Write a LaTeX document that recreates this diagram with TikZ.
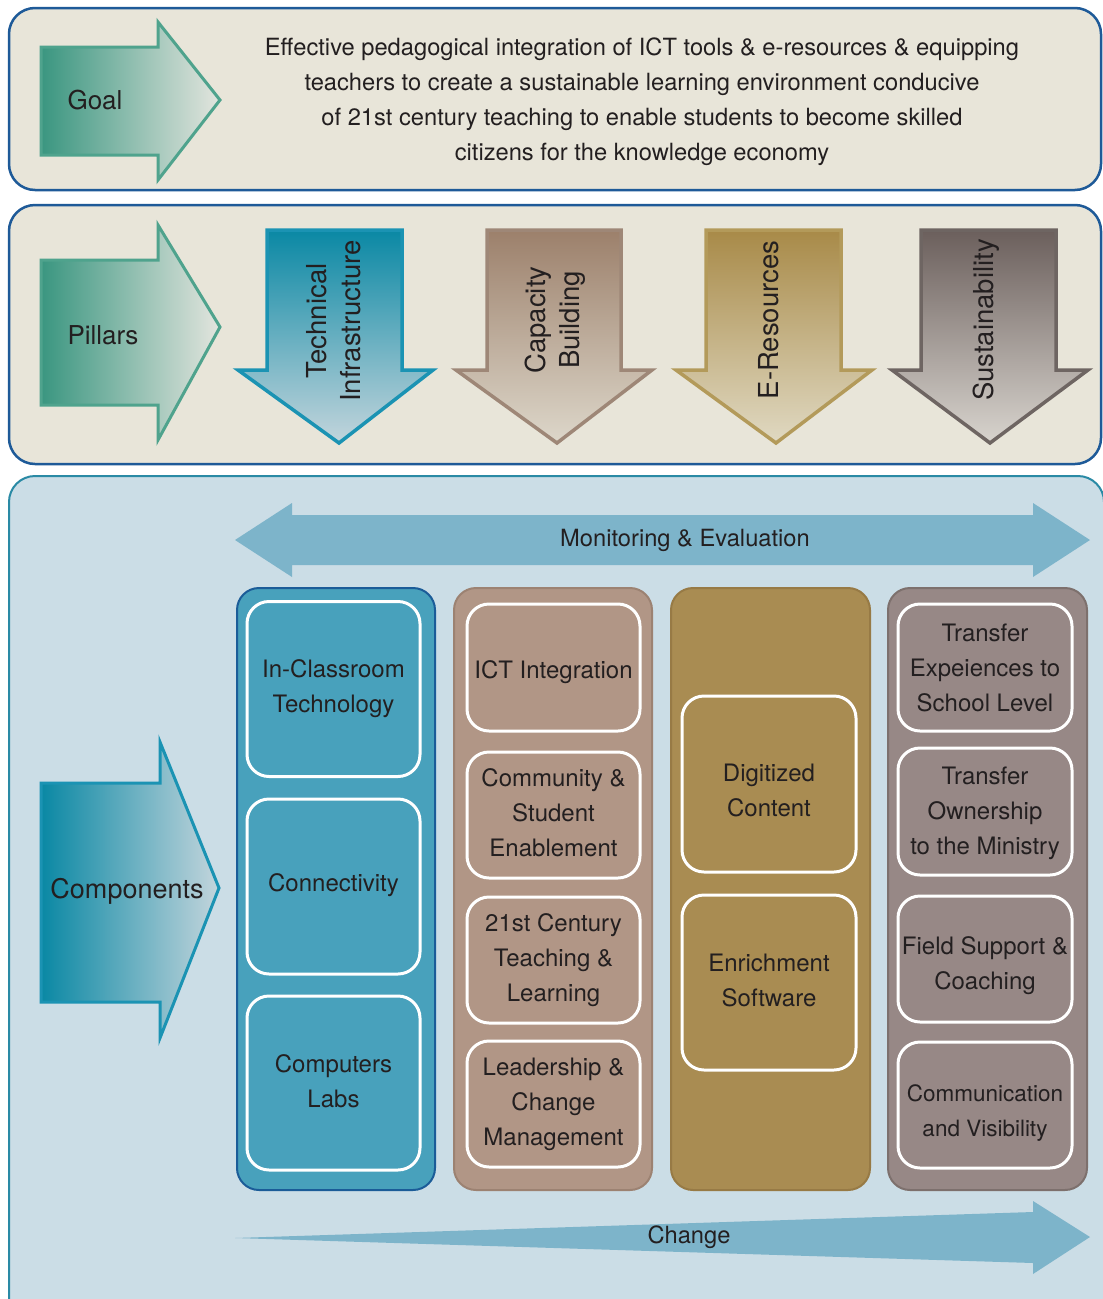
\documentclass[tikz,border=0pt]{standalone}
\usepackage{fontspec}
\setmainfont{TeX Gyre Heros}
\definecolor{beige}{HTML}{E8E5D9}
\definecolor{navy}{HTML}{1E5A98}
\definecolor{compfill}{HTML}{CBDDE6}
\definecolor{compline}{HTML}{2A8AA5}
\definecolor{mearrow}{HTML}{7DB4CA}
\definecolor{greenline}{HTML}{4FA38D}
\definecolor{greendark}{HTML}{3A9680}
\definecolor{greenlight}{HTML}{E3E5DE}
\definecolor{tealline}{HTML}{1B93B3}
\definecolor{tealdark}{HTML}{0A88A4}
\definecolor{teallight}{HTML}{C3D5DC}
\definecolor{capline}{HTML}{9E8777}
\definecolor{captop}{HTML}{9C806B}
\definecolor{capbot}{HTML}{DDD7CA}
\definecolor{eline}{HTML}{B39A5A}
\definecolor{etop}{HTML}{A88A48}
\definecolor{ebot}{HTML}{E0D9C2}
\definecolor{sline}{HTML}{6E6562}
\definecolor{stop}{HTML}{6B5F5C}
\definecolor{sbot}{HTML}{D8D4CE}
\definecolor{colA}{HTML}{48A1BC}
\definecolor{colAline}{HTML}{1B5C98}
\definecolor{colB}{HTML}{B19686}
\definecolor{colBline}{HTML}{9C8272}
\definecolor{colC}{HTML}{A98C52}
\definecolor{colCline}{HTML}{977A45}
\definecolor{colD}{HTML}{978886}
\definecolor{colDline}{HTML}{7D706D}
\definecolor{ink}{HTML}{231F20}
\tikzset{
  outerbox/.style={draw=navy, line width=2.5pt, fill=beige, rounded corners=26pt},
  compbox/.style={draw=compline, line width=2pt, fill=compfill, rounded corners=26pt},
  column/.style={line width=2pt, rounded corners=22pt},
  inbox/.style={draw=white, line width=3pt, rounded corners=22pt, inner sep=0pt},
  boxtxt/.style={align=center, text=ink, font=\fontsize{24}{35}\selectfont, inner sep=1pt},
  boxtxtsm/.style={align=center, text=ink, font=\fontsize{22.5}{35}\selectfont, inner sep=1pt},
  lbl/.style={text=ink, font=\fontsize{26}{30}\selectfont},
  pil/.style={text=ink, rotate=90, align=center, font=\fontsize{27.5}{34}\selectfont},
  bandtxt/.style={text=ink, font=\fontsize{23.7}{28}\selectfont},
}
% name, x, y, width, height, text shift, style, text
\newcommand{\compbx}[8]{%
  \node[inbox, minimum width=#4pt, minimum height=#5pt] (#1) at (#2,#3) {};
  \node[#7] (#1t) at ([yshift=#6pt]#1.center) {#8};}
\begin{document}
\begin{tikzpicture}[x=1pt,y=-1pt]
\useasboundingbox (0,0) rectangle (1103,1299);
\clip (0,0) rectangle (1103,1299);
\fill[white] (0,0) rectangle (1103,1299);

% ---------- Goal band ----------
\draw[outerbox] (9,8) rectangle (1101,190);
\draw[draw=greenline, line width=3pt, left color=greendark, right color=greenlight]
  (41,47) -- (158,47) -- (158,22) -- (220,100) -- (158,180) -- (158,155) -- (41,155) -- cycle;
\node[lbl, anchor=west] (goal) at (64,100) {Goal};
\node[text=ink, align=center, font=\fontsize{23.7}{35}\selectfont] (goaltext) at (642,101.5)
  {Effective pedagogical integration of ICT tools \& e-resources \& equipping\\
   teachers to create a sustainable learning environment conducive\\
   of 21st century teaching to enable students to become skilled\\
   citizens for the knowledge economy};

% ---------- Pillars band ----------
\draw[outerbox] (9,205) rectangle (1101,464);
\draw[draw=greenline, line width=3pt, left color=greendark, right color=greenlight]
  (41,260) -- (158,260) -- (158,225) -- (220,327) -- (158,440) -- (158,405) -- (41,405) -- cycle;
\node[lbl, anchor=west] (pillars) at (64,335) {Pillars};

\draw[draw=tealline, line width=3.5pt, top color=tealdark, bottom color=teallight]
  (267,230) -- (402,230) -- (402,370) -- (433,370) -- (339,443) -- (238,370) -- (267,370) -- cycle;
\node[pil] (tech) at (334,321) {Technical\\Infrastructure};

\draw[draw=capline, line width=3.5pt, top color=captop, bottom color=capbot]
  (487,230) -- (621,230) -- (621,370) -- (652,370) -- (557,443) -- (456,370) -- (487,370) -- cycle;
\node[pil] (cap) at (555,320) {Capacity\\Building};

\draw[draw=eline, line width=3.5pt, top color=etop, bottom color=ebot]
  (706,230) -- (841,230) -- (841,370) -- (872,370) -- (776,443) -- (676,370) -- (706,370) -- cycle;
\node[pil] (eres) at (769,320) {E-Resources};

\draw[draw=sline, line width=3.5pt, top color=stop, bottom color=sbot]
  (921,230) -- (1056,230) -- (1056,370) -- (1088,370) -- (990,443) -- (892,370) -- (921,370) -- cycle;
\node[pil] (sust) at (986,320) {Sustainability};

% ---------- Components band ----------
\draw[compbox] (9,476) rectangle (1104,1330);

% Monitoring & Evaluation double arrow
\fill[mearrow] (235,540) -- (292,503) -- (292,515) -- (1033,515) -- (1033,503) -- (1090,540)
  -- (1033,577) -- (1033,565) -- (292,565) -- (292,577) -- cycle;
\node[bandtxt] (me) at (685,540) {Monitoring \& Evaluation};

% Components arrow
\draw[draw=tealline, line width=3pt, left color=tealdark, right color=teallight]
  (41,783) -- (160,783) -- (160,742) -- (219,888) -- (160,1038) -- (160,1002) -- (41,1002) -- cycle;
\node[text=ink, font=\fontsize{27}{30}\selectfont] (comp) at (127,891) {Components};

% Columns
\draw[column, draw=colAline, fill=colA] (237,588) rectangle (435,1190);
\draw[column, draw=colBline, fill=colB] (454,588) rectangle (652,1190);
\draw[column, draw=colCline, fill=colC] (671,588) rectangle (870,1190);
\draw[column, draw=colDline, fill=colD] (888,588) rectangle (1087,1190);

% Column 1
\compbx{b11}{333.5}{689}{173}{175}{0}{boxtxt}{In-Classroom\\Technology}
\compbx{b12}{333.5}{886.5}{173}{175}{1}{boxtxt}{Connectivity}
\compbx{b13}{333.5}{1083}{173}{174}{2}{boxtxt}{Computers\\Labs}

% Column 2
\compbx{b21}{553.5}{667.5}{173}{127}{-5}{boxtxt}{ICT Integration}
\compbx{b22}{553.5}{815}{173}{126}{2}{boxtxt}{Community \&\\Student\\Enablement}
\compbx{b23}{553.5}{960}{173}{126}{0}{boxtxt}{21st Century\\Teaching \&\\Learning}
\compbx{b24}{553.5}{1104}{173}{126}{0}{boxtxt}{Leadership \&\\Change\\Management}

% Column 3
\compbx{b31}{769}{784}{174}{176}{-6}{boxtxt}{Digitized\\Content}
\compbx{b32}{769}{982.5}{174}{175}{2}{boxtxt}{Enrichment\\Software}

% Column 4
\compbx{b41}{985}{667.5}{174}{127}{0}{boxtxt}{Transfer\\Expeiences to\\School Level}
\compbx{b42}{985}{811.5}{174}{127}{-2}{boxtxt}{Transfer\\Ownership\\to the Ministry}
\compbx{b43}{985}{959}{174}{126}{-7}{boxtxt}{Field Support \&\\Coaching}
\compbx{b44}{985}{1105}{174}{126}{-8}{boxtxtsm}{Communication\\and Visibility}

% Change arrow
\fill[mearrow] (235,1238) -- (1033,1212) -- (1033,1201) -- (1090,1237) -- (1033,1274) -- (1033,1263) -- cycle;
\node[bandtxt] (change) at (689,1237) {Change};
\end{tikzpicture}
\end{document}
